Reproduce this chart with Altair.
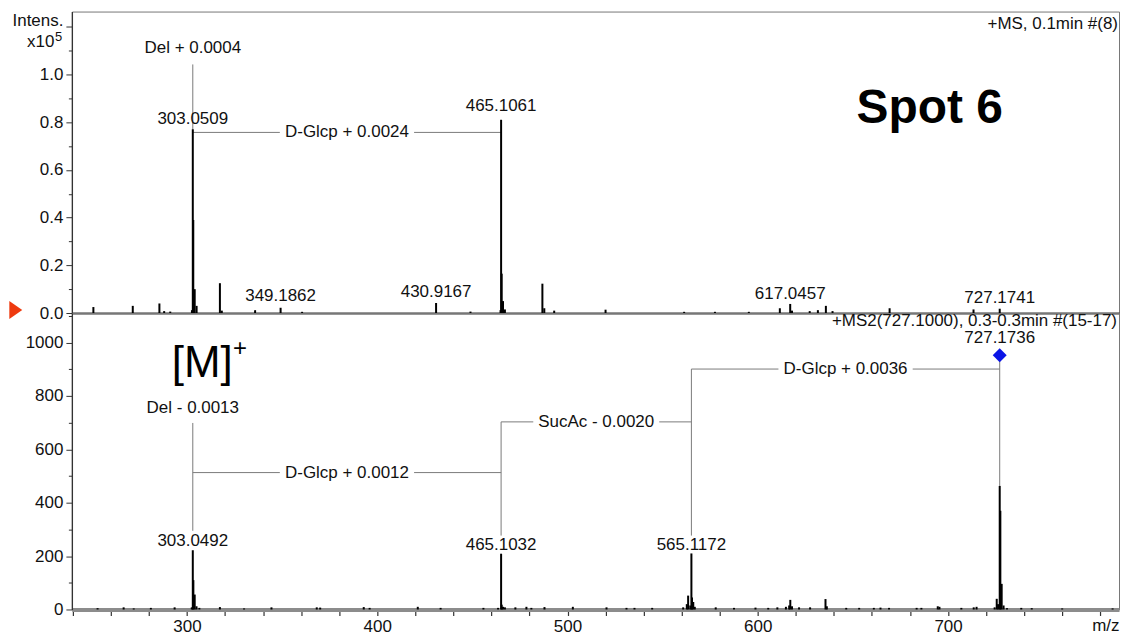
import altair as alt
import pandas as pd

# ---------------- data ----------------
# top spectrum (+MS), intensity x10^5
top_mz = [250.8, 271.5, 285.5, 288.0, 291.2, 302.6, 303.05, 303.3, 304.05, 305.05,
          317.3, 318.3, 335.8, 349.2, 360.5, 430.92, 449.0, 464.8, 465.1, 465.4,
          466.1, 467.1, 486.8, 487.8, 493.0, 520.0, 561.3, 577.5, 595.3, 611.6,
          617.05, 618.0, 627.3, 631.6, 635.8, 639.3, 669.3, 713.4, 727.17]
top_int = [0.025, 0.03, 0.04, 0.008, 0.006, 0.012, 0.77, 0.39, 0.10, 0.03,
           0.125, 0.01, 0.012, 0.022, 0.005, 0.042, 0.006, 0.012, 0.81, 0.165,
           0.05, 0.015, 0.123, 0.02, 0.01, 0.014, 0.005, 0.005, 0.005, 0.02,
           0.038, 0.01, 0.008, 0.012, 0.03, 0.008, 0.02, 0.015, 0.018]

# bottom spectrum (+MS2), counts
bot_mz = [253.0, 266.7, 272.0, 281.0, 293.5, 302.5, 303.05, 303.35, 304.05, 305.0,
          306.5, 317.3, 330.0, 344.4, 368.2, 370.0, 392.9, 396.0, 421.3, 433.3,
          455.8, 463.5, 465.10, 465.40, 466.10, 467.1, 472.6, 478.4, 481.0, 487.9,
          502.8, 520.5, 531.0, 535.2, 544.5, 560.8, 562.7, 563.4, 564.5, 565.12,
          565.45, 566.1, 566.9, 577.9, 587.5, 598.8, 605.5, 610.3, 614.8, 616.5,
          617.1, 618.0, 621.7, 627.5, 635.6, 636.3, 646.5, 653.3, 661.0, 664.5,
          669.0, 683.5, 686.0, 694.6, 695.5, 707.0, 713.5, 715.0, 724.5, 725.6,
          726.3, 727.17, 727.5, 728.2, 729.2, 731.0, 738.5, 744.0, 760.0, 786.5]
bot_int = [5, 8, 4, 6, 8, 8, 222, 110, 56, 12,
           6, 9, 4, 8, 8, 7, 9, 6, 10, 6,
           6, 6, 209, 18, 10, 8, 8, 10, 6, 9,
           10, 8, 6, 6, 6, 8, 20, 52, 15, 210,
           45, 28, 10, 8, 6, 7, 6, 8, 10, 15,
           36, 12, 8, 8, 39, 12, 6, 6, 6, 7,
           6, 6, 6, 12, 10, 6, 8, 10, 8, 40,
           20, 463, 370, 96, 15, 5, 6, 5, 4, 4]

# peak labels
top_lab_mz = [303.05, 465.1, 349.2, 430.92, 617.05, 727.17]
top_lab_y = [0.792, 0.845, 0.050, 0.067, 0.059, 0.044]
top_lab_txt = ["303.0509", "465.1061", "349.1862", "430.9167", "617.0457", "727.1741"]

bot_lab_mz = [303.05, 465.10, 565.12, 727.17]
bot_lab_y = [239, 224, 224, 998]
bot_lab_txt = ["303.0492", "465.1032", "565.1172", "727.1736"]

# bracket annotations (horizontal connectors)
top_br_x1 = [303.05]
top_br_x2 = [465.1]
top_br_y = [0.757]
top_br_txt = ["D-Glcp + 0.0024"]

bot_br_x1 = [303.05, 465.10, 565.12]
bot_br_x2 = [465.10, 565.12, 727.17]
bot_br_y = [513, 703, 901]
bot_br_txt = ["D-Glcp + 0.0012", "SucAc - 0.0020", "D-Glcp + 0.0036"]

# vertical connectors
top_vl_x = [303.05]
top_vl_y1 = [0.757]
top_vl_y2 = [1.042]

bot_vl_x = [303.05, 465.10, 565.12, 727.17]
bot_vl_y1 = [295, 277, 277, 463]
bot_vl_y2 = [699, 703, 901, 940]

# Del notes
top_note_x = [303.05]
top_note_y = [1.109]
top_note_txt = ["Del + 0.0004"]
bot_note_x = [303.05]
bot_note_y = [755]
bot_note_txt = ["Del - 0.0013"]

# precursor marker
prec_mz = [727.17]
prec_y = [953]

# ---------------- layout ----------------
W = 1049
XDOM = [239.5, 239.5 + W / 1.906]
H_TOP = 302
H_BOT = 297
TOP_DOM = [0, 1.2636]
BOT_DOM = [0, 1111]
FONT = "Liberation Sans"
TXT = "#111111"
LINE = "#7a7a7a"

xscale = alt.Scale(domain=XDOM, nice=False, zero=False)

top_xaxis = alt.Axis(labels=False, ticks=False, domain=True, domainColor="#333333",
                     domainWidth=2, title=None, grid=False)
bot_xaxis = alt.Axis(values=list(range(240, 781, 20)),
                     labelExpr="datum.value % 100 == 0 ? datum.label : ''",
                     domainColor="#8c8c8c", domainWidth=4, tickColor="#333333",
                     tickWidth=1.2, tickSize=6, labelPadding=3, labelFontSize=17,
                     labelColor=TXT, labelFont=FONT, grid=False,
                     title="m/z", titleX=W, titleY=16, titleAlign="right",
                     titleBaseline="middle", titleFontWeight="normal",
                     titleFontSize=17, titleFont=FONT, titleColor=TXT)

top_yaxis = alt.Axis(values=[round(i * 0.1, 1) for i in range(13)],
                     labelExpr="(round(datum.value*10) % 2 == 0 && datum.value < 1.05) ? format(datum.value, '.1f') : ''",
                     tickSize={"condition": {"test": "round(datum.value*10) % 2 == 0", "value": 6}, "value": 3.5},
                     domainColor="#333333", domainWidth=1.3, tickColor="#333333",
                     labelPadding=3, labelFontSize=17, labelColor=TXT, labelFont=FONT,
                     title=None, grid=False)
bot_yaxis = alt.Axis(values=list(range(0, 1101, 100)),
                     labelExpr="datum.value % 200 == 0 ? format(datum.value, 'd') : ''",
                     tickSize={"condition": {"test": "datum.value % 200 == 0", "value": 6}, "value": 3.5},
                     domainColor="#333333", domainWidth=1.3, tickColor="#333333",
                     labelPadding=3, labelFontSize=17, labelColor=TXT, labelFont=FONT,
                     title=None, grid=False)


def panel(mz, inten, lab_mz, lab_y, lab_txt, br_x1, br_x2, br_y, br_txt,
          vl_x, vl_y1, vl_y2, note_x, note_y, note_txt, ydom, xaxis, yaxis):
    yscale = alt.Scale(domain=ydom, nice=False, zero=True)

    def X(f):
        return alt.X(f"{f}:Q", scale=xscale, axis=xaxis)

    def Y(f):
        return alt.Y(f"{f}:Q", scale=yscale, axis=yaxis)

    spec = pd.DataFrame({"mz": mz, "i": inten})
    peaks = alt.Chart(spec).transform_calculate(z="0").mark_rule(
        color="black", strokeWidth=2).encode(x=X("mz"), y=Y("i"), y2="z:Q")

    vl = pd.DataFrame({"x": vl_x, "y1": vl_y1, "y2": vl_y2})
    vlines = alt.Chart(vl).mark_rule(color=LINE, strokeWidth=1).encode(
        x=X("x"), y=Y("y1"), y2="y2:Q")

    br = pd.DataFrame({"x1": br_x1, "x2": br_x2, "y": br_y, "t": br_txt})
    br["mid"] = (br["x1"] + br["x2"]) / 2
    br["gap"] = br["t"].str.len() * 8.3 + 10
    hlines = alt.Chart(br).mark_rule(color=LINE, strokeWidth=1).encode(
        x=X("x1"), x2="x2:Q", y=Y("y"))
    masks = alt.Chart(br).mark_tick(orient="horizontal", thickness=16,
                                    color="white", opacity=1).encode(
        x=X("mid"), y=Y("y"), size=alt.Size("gap:Q", scale=None, legend=None))
    brtext = alt.Chart(br).mark_text(baseline="middle", align="center").encode(
        x=X("mid"), y=Y("y"), text="t:N")

    lab = pd.DataFrame({"x": lab_mz, "y": lab_y, "t": lab_txt})
    labels = alt.Chart(lab).mark_text(baseline="alphabetic", align="center").encode(
        x=X("x"), y=Y("y"), text="t:N")

    nt = pd.DataFrame({"x": note_x, "y": note_y, "t": note_txt})
    notes = alt.Chart(nt).mark_text(baseline="middle", align="center").encode(
        x=X("x"), y=Y("y"), text="t:N")

    return [vlines, hlines, masks, peaks, brtext, labels, notes], X, Y


def ptext(txt, x, y, **kw):
    return alt.Chart(pd.DataFrame({"t": [txt]})).mark_text(**kw).encode(
        x=alt.value(x), y=alt.value(y), text="t:N")


top_layers, Xt, Yt = panel(top_mz, top_int, top_lab_mz, top_lab_y, top_lab_txt,
                           top_br_x1, top_br_x2, top_br_y, top_br_txt,
                           top_vl_x, top_vl_y1, top_vl_y2,
                           top_note_x, top_note_y, top_note_txt,
                           TOP_DOM, top_xaxis, top_yaxis)

top_extra = [
    ptext("+MS, 0.1min #(8)", W - 1, 12.5, align="right", baseline="middle"),
    ptext("Spot 6", 786, 112, align="left", baseline="alphabetic",
          fontSize=48, fontWeight="bold", color="#000000"),
    ptext("Intens.", -8.5, 9, align="right", baseline="middle"),
    ptext("x10", -17.5, 31, align="right", baseline="middle"),
    ptext("5", -17, 25, align="left", baseline="middle", fontSize=13),
    alt.Chart(pd.DataFrame({"a": [1]})).mark_point(
        shape="M-0.72,-1L0.72,0L-0.72,1Z", size=324, filled=True,
        color="#ee3a0f", opacity=1).encode(x=alt.value(-56.2), y=alt.value(299)),
]

top = alt.layer(*top_layers, *top_extra).properties(width=W, height=H_TOP)

bot_layers, Xb, Yb = panel(bot_mz, bot_int, bot_lab_mz, bot_lab_y, bot_lab_txt,
                           bot_br_x1, bot_br_x2, bot_br_y, bot_br_txt,
                           bot_vl_x, bot_vl_y1, bot_vl_y2,
                           bot_note_x, bot_note_y, bot_note_txt,
                           BOT_DOM, bot_xaxis, bot_yaxis)

diamond = alt.Chart(pd.DataFrame({"x": prec_mz, "y": prec_y})).mark_point(
    shape="diamond", size=196, filled=True, color="#0a14e6", opacity=1).encode(
    x=Xb("x"), y=Yb("y"))

bot_extra = [
    diamond,
    ptext("+MS2(727.1000), 0.3-0.3min #(15-17)", W - 2, 8, align="right",
          baseline="middle"),
    ptext("[M]", 100, 64, align="left", baseline="alphabetic", fontSize=44,
          color="#000000"),
    ptext("+", 168.5, 36, align="center", baseline="middle", fontSize=24,
          color="#000000"),
]

bottom = alt.layer(*bot_layers, *bot_extra).properties(width=W, height=H_BOT)

chart = alt.vconcat(top, bottom, spacing=0, bounds="flush").properties(
    padding={"left": 0, "top": 2, "right": 0, "bottom": 0}
).configure_view(stroke="#777777", strokeWidth=1).configure_text(
    font=FONT, fontSize=17, color=TXT
).configure_axis(grid=False)

chart.save("out.html", embed_options={"renderer": "svg", "actions": False})
